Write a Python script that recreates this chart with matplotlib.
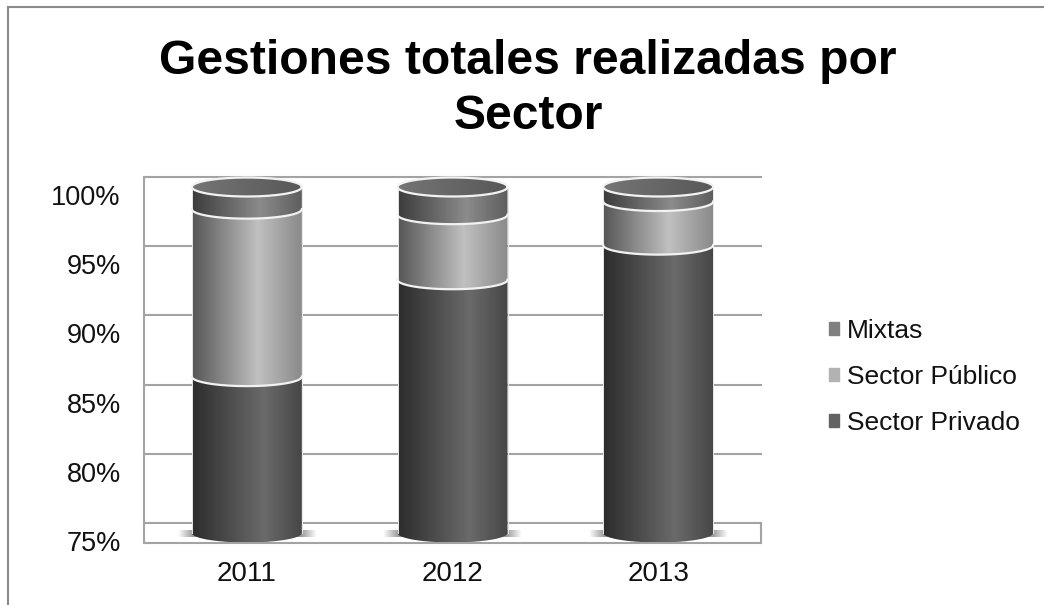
import numpy as np
import matplotlib
matplotlib.use("Agg")
import matplotlib.pyplot as plt
from matplotlib.colors import LinearSegmentedColormap, to_rgb
from matplotlib.lines import Line2D
from matplotlib.patches import Patch, PathPatch
from matplotlib.path import Path
from matplotlib.transforms import ScaledTranslation

plt.rcParams['font.family'] = ['Liberation Sans', 'DejaVu Sans']

years = ['2011', '2012', '2013']
privado = [86.3, 93.3, 95.8]
publico = [12.1, 4.7, 3.15]
mixtas = [1.6, 2.0, 1.05]
title = 'Gestiones totales realizadas por\nSector'
series_names = ['Sector Privado', 'Sector Público', 'Mixtas']
yticks = [75, 80, 85, 90, 95, 100]

W, H = 1044, 605
fig = plt.figure(figsize=(W / 100, H / 100), dpi=100, facecolor='white')
L, R, T, B = 144, 761, 177, 543
ax = fig.add_axes([L / W, 1 - B / H, (R - L) / W, (B - T) / H])
px_per_pct = (523 - 177) / 25
ax.set_xlim(-0.5, 2.5)
ax.set_ylim(75 - 20 / px_per_pct, 100)
ax.set_facecolor('white')

GRID = '#a3a3a3'
for s in ['top', 'right']:
    ax.spines[s].set_visible(False)
for s in ['left', 'bottom']:
    ax.spines[s].set_color(GRID)
    ax.spines[s].set_linewidth(1.5)
ax.set_yticks(yticks)
ax.set_yticklabels([f'{v}%' for v in yticks], fontsize=19.5, color='#111111')
ax.set_xticks(range(len(years)))
ax.set_xticklabels(years, fontsize=20, color='#111111')
ax.tick_params(length=0)
ax.tick_params(axis='y', pad=16.7)
ax.tick_params(axis='x', pad=13)
for lab in ax.get_yticklabels():
    lab.set_transform(lab.get_transform() + ScaledTranslation(0, -18 / 100, fig.dpi_scale_trans))
ax.yaxis.grid(True, color=GRID, linewidth=1.5, zorder=1)
for gl in ax.get_ygridlines():
    gl.set_clip_on(False)
ax.xaxis.grid(False)
ax.set_axisbelow(True)
ax.plot([2.5, 2.5], [75, ax.get_ylim()[0]], color=GRID, lw=1.5, clip_on=False, zorder=1)

half_w = 55 / ((R - L) / 3)
ell_h = 9.5 / px_per_pct
depth = 10 / px_per_pct


def cmap(stops):
    return LinearSegmentedColormap.from_list('c', [(p, to_rgb(c)) for p, c in stops])


CM_PRIV = cmap([(0, '#2c2c2c'), (0.65, '#6a6a6a'), (1, '#474747')])
CM_PUB = cmap([(0, '#565656'), (0.6, '#c0c0c0'), (1, '#8a8a8a')])
CM_MIX = cmap([(0, '#3c3c3c'), (0.62, '#8b8b8b'), (1, '#5e5e5e')])
CM_TOP = cmap([(0, '#757575'), (1, '#585858')])
grad = np.linspace(0, 1, 256).reshape(1, -1)
t = np.linspace(0, np.pi, 80)


def arc(xc, y):
    return xc - half_w * np.cos(t), y - ell_h * np.sin(t)


def draw_segment(xc, lo, hi, cm):
    lo, hi = lo - depth, hi - depth
    xa, ya = arc(xc, lo)
    xb, yb = arc(xc, hi)
    verts = np.r_[np.c_[xa, ya], np.c_[xb[::-1], yb[::-1]], [[xa[0], ya[0]]]]
    patch = PathPatch(Path(verts), transform=ax.transData, fc='none', ec='none')
    ax.add_patch(patch)
    im = ax.imshow(grad, cmap=cm, extent=[xc - half_w, xc + half_w, lo - ell_h, hi], aspect='auto',
                   zorder=3, interpolation='bilinear')
    im.set_clip_path(patch)
    if lo + depth > 75:
        ax.plot(xa, ya, color='#f2f2f2', lw=1.6, zorder=4, clip_on=False)


shadow = np.zeros((1, 256, 4))
shadow[..., :3] = 0.6
shadow[..., 3] = np.clip(np.minimum(np.linspace(0, 1, 256), np.linspace(1, 0, 256)) * 9, 0, 1)
for i in range(len(years)):
    ax.imshow(shadow, extent=[i - half_w * 1.26, i + half_w * 1.26, 75 - depth - 3.5 / px_per_pct,
                              75 - depth + 3.5 / px_per_pct], aspect='auto', zorder=2)
    p1 = privado[i]
    p2 = p1 + publico[i]
    p3 = p2 + mixtas[i]
    draw_segment(i, 75, p1, CM_PRIV)
    draw_segment(i, p1, p2, CM_PUB)
    draw_segment(i, p2, p3, CM_MIX)
    th = np.linspace(0, 2 * np.pi, 160)
    xe = i + half_w * np.cos(th)
    ye = p3 - depth + ell_h * np.sin(th)
    cap = PathPatch(Path(np.c_[xe, ye]), transform=ax.transData, fc='none', ec='none')
    ax.add_patch(cap)
    im = ax.imshow(grad, cmap=CM_TOP, extent=[i - half_w, i + half_w, p3 - depth - ell_h, p3 - depth + ell_h],
                   aspect='auto', zorder=3.5, interpolation='bilinear')
    im.set_clip_path(cap)
    ax.plot(xe, ye, color='#f2f2f2', lw=1.6, zorder=4, clip_on=False)
    for sgn in (-1, 1):
        ax.plot([i + sgn * half_w] * 2, [75 - depth, p3 - depth], color='#e8e8e8', lw=0.7, zorder=3.8)

ax.set_xlim(-0.5, 2.5)
ax.set_ylim(75 - 20 / px_per_pct, 100)

handles = [Patch(color=c) for c in ['#808080', '#b2b2b2', '#636363']]
leg = fig.legend(handles, series_names[::-1], loc='center left', bbox_to_anchor=(829 / W, 1 - 377 / H),
                 frameon=False, fontsize=19, handlelength=0.38, handleheight=0.38,
                 handletextpad=0.3, labelspacing=0.85, borderpad=0, borderaxespad=0)
for txt in leg.get_texts():
    txt.set_color('#111111')

fig.text(528 / W, 1 - 89 / H, title, ha='center', va='center', fontsize=34.6, fontweight='bold',
         color='black', linespacing=1.31)

FRAME = '#8a8a8a'
fig.add_artist(Line2D([8 / W, 1], [1 - 7 / H] * 2, color=FRAME, lw=1.5))
fig.add_artist(Line2D([8 / W, 8 / W], [0, 1 - 7 / H], color=FRAME, lw=1.5))

fig.savefig('out.png', dpi=100, facecolor='white')
